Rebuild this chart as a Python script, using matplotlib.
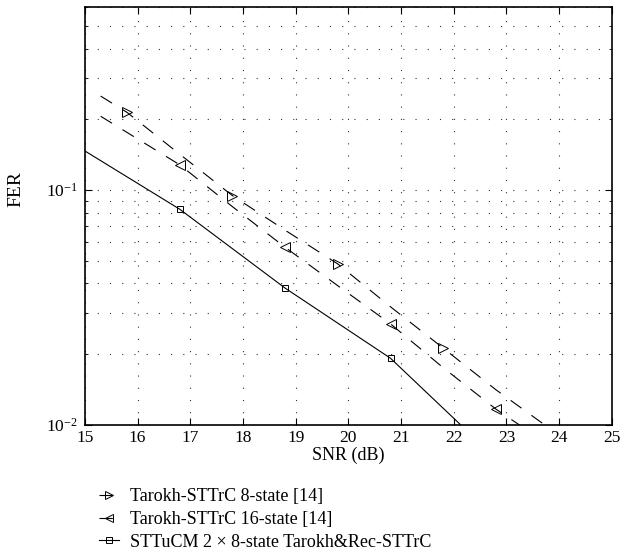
import numpy as np
import matplotlib
matplotlib.use('Agg')
import matplotlib.pyplot as plt
from matplotlib.ticker import LogLocator, NullFormatter, MultipleLocator

plt.rcParams.update({
    'font.family': ['Liberation Serif', 'DejaVu Serif'],
    'mathtext.fontset': 'custom',
    'mathtext.rm': 'Liberation Serif',
    'font.size': 13,
})

# Data (SNR in dB, FER)
snr_8 = [15.3, 15.8, 16.8, 17.8, 18.8, 19.8, 20.8, 21.8, 22.8, 23.75]
fer_8 = [0.251, 0.214, 0.142, 0.0946, 0.0674, 0.0484, 0.0318, 0.0212, 0.0141, 0.0099]
mark_8 = [1, 3, 5, 7]

snr_16 = [15.3, 16.8, 17.8, 18.8, 19.8, 20.8, 21.8, 22.8, 23.3]
fer_16 = [0.206, 0.128, 0.0849, 0.0570, 0.0391, 0.0269, 0.0175, 0.01166, 0.0098]
mark_16 = [1, 3, 5, 7]

snr_tu = [15.0, 16.8, 18.8, 20.8, 22.8]
fer_tu = [0.1466, 0.0828, 0.0382, 0.0192, 0.0072]
mark_tu = [1, 2, 3]

labels = ["Tarokh-STTrC 8-state [14]",
          "Tarokh-STTrC 16-state [14]",
          "STTuCM 2 \u00d7 8-state Tarokh&Rec-STTrC"]

fig = plt.figure(figsize=(6.38, 5.56), dpi=100)
ax = fig.add_axes([0.133, 0.236, 0.826, 0.751])

dash = (0, (12, 11))
ax.plot(snr_8, fer_8, color='black', lw=0.8, ls=dash, marker='>', ms=7,
        mfc='none', mec='black', mew=0.7, markevery=mark_8, label=labels[0])
ax.plot(snr_16, fer_16, color='black', lw=0.8, ls=dash, marker='<', ms=7,
        mfc='none', mec='black', mew=0.7, markevery=mark_16, label=labels[1])
ax.plot(snr_tu, fer_tu, color='black', lw=0.8, ls='-', marker='s', ms=5,
        mfc='none', mec='black', mew=0.7, markevery=mark_tu, label=labels[2])

ax.set_yscale('log')
ax.set_xlim(15, 25)
ax.set_ylim(0.01, 0.6)
ax.xaxis.set_major_locator(MultipleLocator(1))
ax.yaxis.set_major_locator(LogLocator(base=10))
ax.yaxis.set_minor_locator(LogLocator(base=10, subs=np.arange(2, 10)))
ax.yaxis.set_minor_formatter(NullFormatter())

ax.tick_params(which='both', direction='in', top=True, right=True)
ax.tick_params(which='major', length=5, width=0.8, pad=5, labelsize=12.5)
ax.tick_params(axis='x', which='major', pad=4)
ax.tick_params(which='minor', length=2.5, width=0.6)

grid_ls = (0, (1, 10))
ax.grid(True, which='major', axis='x', color='#333333', ls=grid_ls, lw=0.8)
ax.grid(True, which='both', axis='y', color='#333333', ls=grid_ls, lw=0.8)

for s in ax.spines.values():
    s.set_linewidth(1.2)

ax.set_xlabel("SNR (dB)", labelpad=0)
ax.set_ylabel("FER", fontsize=14)
ax.yaxis.set_label_coords(-0.115, 0.565)

handles, _ = ax.get_legend_handles_labels()
fig.legend(handles, labels, loc='upper left', bbox_to_anchor=(0.155, 0.122),
           frameon=False, handlelength=1.1, handletextpad=0.6,
           labelspacing=0.32, borderaxespad=0, borderpad=0, markerscale=0.8)

fig.savefig("out.png", dpi=100)
